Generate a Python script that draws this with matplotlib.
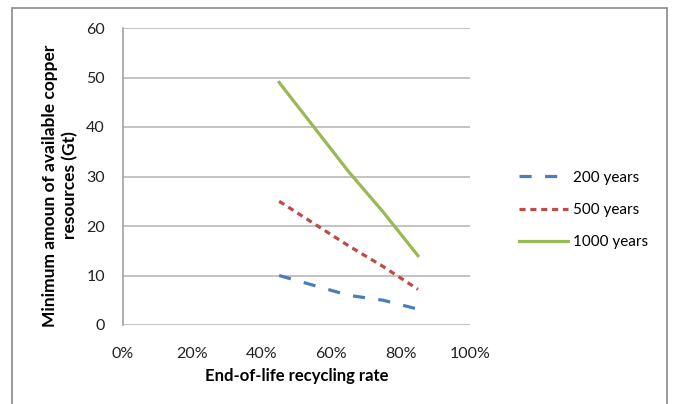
import matplotlib
matplotlib.use("Agg")
import matplotlib.pyplot as plt
from matplotlib.patches import Rectangle
from matplotlib.ticker import FuncFormatter

plt.rcParams['font.family'] = ['Lato', 'DejaVu Sans']

rates = [0.45, 0.55, 0.65, 0.75, 0.85]
y200 = [10, 8, 6, 5, 3.2]
y500 = [25, 20.5, 16, 11.8, 7.2]
y1000 = [49, 40, 31, 22.8, 14]
labels = ["200 years", "500 years", "1000 years"]

fig = plt.figure(figsize=(6.75, 4.04), dpi=100)
ax = fig.add_axes([123/675, 1-325/404, 347/675, 297/404])

lw = 2.3
ax.plot(rates, y200, color='#4a7ebb', lw=lw, dashes=(3.8, 4.2), label=labels[0])
ax.plot(rates, y500, color='#be4b48', lw=lw, dashes=(1.9, 1.5), label=labels[1])
ax.plot(rates, y1000, color='#98b954', lw=lw, label=labels[2])

ax.set_xlim(0, 1)
ax.set_ylim(0, 60)
ax.set_xticks([0, 0.2, 0.4, 0.6, 0.8, 1.0])
ax.set_yticks(range(0, 61, 10))
ax.xaxis.set_major_formatter(FuncFormatter(lambda v, p: f"{v*100:.0f}%"))
ax.grid(axis='y', color='#b3b3b3', lw=1.1)
ax.set_axisbelow(True)
for s in ['top', 'right', 'bottom']:
    ax.spines[s].set_visible(False)
ax.spines['left'].set_color('#999999')
ax.spines['left'].set_linewidth(1.1)
ax.tick_params(axis='both', length=0, labelsize=11.5, colors='#222222')
ax.tick_params(axis='x', pad=16)
ax.tick_params(axis='y', pad=13)

ax.set_xlabel("End-of-life recycling rate", fontsize=12, fontweight='bold', labelpad=5)
ax.set_ylabel("Minimum amoun of available copper\nresources (Gt)", fontsize=12.5,
              fontweight='bold', labelpad=6, linespacing=1.25)
ax.yaxis.label.set_y(0.47)

fig.legend(loc='center left', bbox_to_anchor=(505/675, 1-210/404), frameon=False,
           fontsize=11, handlelength=3.2, labelspacing=1.2, handletextpad=0.35)

fig.patches.append(Rectangle((12/675, -0.05), 655/675, 1.05-8/404, transform=fig.transFigure,
                             fill=False, edgecolor='#8a8a8a', lw=1.2))

fig.savefig("out.png", dpi=100)
